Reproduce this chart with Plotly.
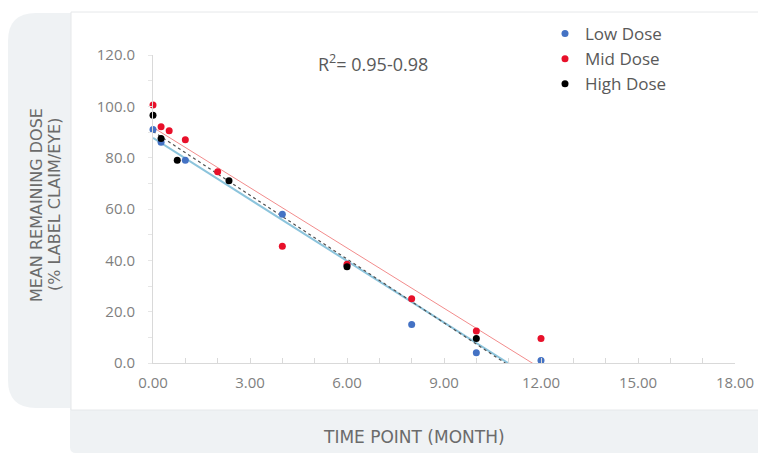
import numpy as np
import plotly.graph_objects as go

# ---- data ----
low_x = [0, 0.25, 1, 4, 6, 8, 10, 12]
low_y = [91, 86, 79, 58, 38, 15, 4, 1]
mid_x = [0, 0.25, 0.5, 1, 2, 4, 6, 8, 10, 12]
mid_y = [100.5, 92, 90.5, 87, 74.5, 45.5, 38.5, 25, 12.5, 9.5]
high_x = [0, 0.25, 0.75, 2.35, 6, 10]
high_y = [96.5, 87.5, 79, 71, 37.5, 9.5]
series_names = ["Low Dose", "Mid Dose", "High Dose"]
r2_text = "R<sup>2</sup>= 0.95-0.98"
x_title = "TIME POINT (MONTH)"
y_title_lines = ["MEAN REMAINING DOSE", "(% LABEL CLAIM/EYE)"]

W, H = 758, 455
L, R, T, B = 153, 23, 55, 92
pw, ph = W - L - R, H - T - B

def px(x):
    return (x - L) / pw

def py(y):
    return (H - B - y) / ph

fig = go.Figure()

# trend lines (least squares fits of each series)
trend_styles = [
    dict(color="#8cc4dc", width=2, dash="solid"),
    dict(color="#f28c8c", width=1, dash="solid"),
    dict(color="#505050", width=1.2, dash="dot"),
]
series = [(low_x, low_y), (mid_x, mid_y), (high_x, high_y)]
order = [0, 2, 1]
for i in order:
    xs, ys = series[i]
    m, c = np.polyfit(xs, ys, 1)
    tx = np.array([min(xs), max(mid_x)])
    fig.add_trace(go.Scatter(x=tx, y=m * tx + c, mode="lines",
                             line=trend_styles[i], showlegend=False,
                             hoverinfo="skip"))

marker_colors = ["#4472c4", "#e8102a", "#000000"]
for i, (xs, ys) in enumerate(series):
    fig.add_trace(go.Scatter(x=xs, y=ys, mode="markers", name=series_names[i],
                             marker=dict(color=marker_colors[i], size=7),
                             cliponaxis=False))

gray = "#eff2f4"
shapes = [
    dict(type="path", xref="paper", yref="paper", layer="below",
         path=(f"M {px(80)} {py(13)} L {px(36)} {py(13)} "
               f"Q {px(8)} {py(13)} {px(8)} {py(41)} "
               f"L {px(8)} {py(380)} Q {px(8)} {py(408)} {px(36)} {py(408)} "
               f"L {px(80)} {py(408)} Z"),
         fillcolor=gray, line=dict(width=0)),
    dict(type="path", xref="paper", yref="paper", layer="below",
         path=(f"M {px(70)} {py(405)} L {px(758)} {py(405)} L {px(758)} {py(453)} "
               f"L {px(76)} {py(453)} Q {px(70)} {py(453)} {px(70)} {py(447)} Z"),
         fillcolor=gray, line=dict(width=0)),
    dict(type="rect", xref="paper", yref="paper", layer="below",
         x0=px(71), x1=px(760), y0=py(410), y1=py(12),
         fillcolor="white", line=dict(color="#e6e8ea", width=1)),
]

title_font = dict(family="DejaVu Sans", size=16, color="#6b6b6b")
common = dict(xref="paper", yref="paper", showarrow=False,
              xanchor="center", yanchor="middle")
annotations = [
    dict(text=r2_text, x=px(373), y=py(63),
         font=dict(family="Open Sans", size=18, color="#595959"), **common),
    dict(text=x_title, x=px(414), y=py(437),
         font=dict(family="DejaVu Sans", size=17, color="#6b6b6b"), **common),
    dict(text=y_title_lines[0], x=px(36), y=py(205), textangle=-90,
         font=title_font, **common),
    dict(text=y_title_lines[1], x=px(54), y=py(205), textangle=-90,
         font=title_font, **common),
]

tickfont = dict(family="Open Sans", size=15, color="#7f7f7f")
fig.update_layout(
    width=W, height=H, autosize=False,
    margin=dict(l=L, r=R, t=T, b=B, autoexpand=False),
    paper_bgcolor="white", plot_bgcolor="rgba(0,0,0,0)",
    shapes=shapes, annotations=annotations,
    showlegend=True,
    legend=dict(x=px(545), y=py(16), xanchor="left", yanchor="top",
                bgcolor="rgba(0,0,0,0)", itemwidth=30, tracegroupgap=0,
                font=dict(family="Open Sans", size=17, color="#595959")),
    xaxis=dict(range=[0, 18], dtick=3, tickformat=".2f", showgrid=False,
               zeroline=False, showline=True, linecolor="#d9d9d9", linewidth=1,
               ticks="inside", ticklen=5, tickcolor="#d9d9d9",
               minor=dict(dtick=1, ticks="inside", ticklen=5, tickcolor="#d9d9d9"),
               tickfont=tickfont, ticklabelstandoff=6, automargin=False),
    yaxis=dict(range=[0, 120], dtick=20, tickformat=".1f", showgrid=False,
               zeroline=False, showline=True, linecolor="#d9d9d9", linewidth=1,
               ticks="outside", ticklen=4, tickcolor="#e6e6e6",
               minor=dict(dtick=10, ticks="outside", ticklen=4, tickcolor="#e6e6e6"),
               tickfont=tickfont, ticklabelstandoff=10, automargin=False),
)

fig.write_html("out.html", config={"displayModeBar": False},
               post_script="document.body.style.margin='0';document.body.style.overflow='hidden';")
